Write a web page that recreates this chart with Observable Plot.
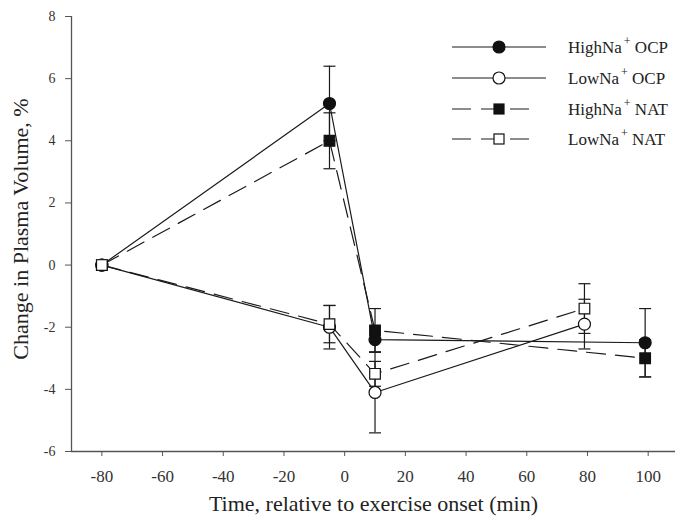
<!DOCTYPE html>
<html><head><meta charset="utf-8">
<script src="https://cdn.jsdelivr.net/npm/d3@7"></script>
<script src="https://cdn.jsdelivr.net/npm/@observablehq/plot@0.6"></script>
<style>
body{margin:0;background:#fff;}
#wrap{position:relative;width:675px;height:516px;}
#wrap svg.legend{position:absolute;left:0;top:0;pointer-events:none;}
</style></head><body><div id="wrap"></div>
<script>
// ---- data ----
const xTicks = [-80, -60, -40, -20, 0, 20, 40, 60, 80, 100];
const yTicks = [-6, -4, -2, 0, 2, 4, 6, 8];
const xTitle = "Time, relative to exercise onset (min)";
const yTitle = "Change in Plasma Volume, %";

const highOcpTime = [-80, -5, 10, 99];
const highOcpVal  = [0, 5.2, -2.4, -2.5];
const highOcpErr  = [0, 1.2, 0.4, 1.1];

const lowOcpTime = [-80, -5, 10, 79];
const lowOcpVal  = [0, -2.0, -4.1, -1.9];
const lowOcpErr  = [0, 0.7, 1.3, 0.8];

const highNatTime = [-80, -5, 10, 99];
const highNatVal  = [0, 4.0, -2.1, -3.0];
const highNatErr  = [0, 0.9, 0.7, 0.6];

const lowNatTime = [-80, -5, 10, 79];
const lowNatVal  = [0, -1.9, -3.5, -1.4];
const lowNatErr  = [0, 0.6, 0.4, 0.8];

const seriesBase = ["HighNa", "LowNa", "HighNa", "LowNa"];
const seriesProt = ["OCP", "OCP", "NAT", "NAT"];

// ---- build ----
const series = [
  {key: "HighNa OCP", time: highOcpTime, val: highOcpVal, err: highOcpErr, symbol: "circle", filled: true,  dash: null},
  {key: "LowNa OCP",  time: lowOcpTime,  val: lowOcpVal,  err: lowOcpErr,  symbol: "circle", filled: false, dash: null},
  {key: "HighNa NAT", time: highNatTime, val: highNatVal, err: highNatErr, symbol: "square", filled: true,  dash: "19,10"},
  {key: "LowNa NAT",  time: lowNatTime,  val: lowNatVal,  err: lowNatErr,  symbol: "square", filled: false, dash: "19,10"}
];
series.forEach((s, i) => { s.base = seriesBase[i]; s.prot = seriesProt[i];
  s.rows = s.time.map((t, j) => ({key: s.key, t, v: s.val[j], e: s.err[j]})); });
const errRows = series.flatMap(s => s.rows.filter(d => d.e > 0));

const ink = "#1a1a1a";
const axisInk = "#555";
const xDomain = [-90, 109];
const yDomain = [-6, 8];
const cap = {draw(ctx) { ctx.moveTo(-6, 0); ctx.lineTo(6, 0); }};
const fmt = d => String(d);

const marks = [
  Plot.ruleX([xDomain[0]], {stroke: axisInk, strokeWidth: 1.3}),
  Plot.ruleY([yDomain[0]], {stroke: axisInk, strokeWidth: 1.3}),
  Plot.axisX({ticks: xTicks, tickFormat: fmt, tickSize: 5, tickPadding: 13, fontSize: 17, label: null, stroke: axisInk, fill: "#333"}),
  Plot.axisY({ticks: yTicks, tickFormat: fmt, tickSize: 6, tickPadding: 10, fontSize: 14, label: null, stroke: axisInk, fill: "#333"}),
  Plot.text([xTitle], {frameAnchor: "bottom", dy: 59, fontSize: 22, lineAnchor: "bottom", textAnchor: "middle", fill: "#222"}),
  Plot.text([yTitle], {frameAnchor: "left", rotate: -90, dx: -44, dy: -5, fontSize: 22, lineAnchor: "bottom", textAnchor: "middle", fill: "#222"}),
  Plot.ruleX(errRows, {x: "t", y1: d => d.v - d.e, y2: d => d.v + d.e, stroke: ink, strokeWidth: 1.2}),
  Plot.dot(errRows, {x: "t", y: d => d.v + d.e, symbol: cap, stroke: ink, strokeWidth: 1.2, fill: "none"}),
  Plot.dot(errRows, {x: "t", y: d => d.v - d.e, symbol: cap, stroke: ink, strokeWidth: 1.2, fill: "none"})
];
series.forEach(s => {
  marks.push(Plot.line(s.rows, {x: "t", y: "v", stroke: ink, strokeWidth: 1.2, strokeDasharray: s.dash || undefined}));
});
series.forEach(s => {
  marks.push(Plot.dot(s.rows, {x: "t", y: "v", symbol: s.symbol, r: 6, fill: s.filled ? "#111" : "#fff", stroke: "#111", strokeWidth: 1.2}));
});

const chart = Plot.plot({
  width: 675, height: 516,
  marginLeft: 71, marginRight: 0, marginTop: 16, marginBottom: 65,
  style: {fontFamily: "'Liberation Serif', 'Times New Roman', serif", background: "#fff", color: "#222"},
  x: {domain: xDomain},
  y: {domain: yDomain},
  marks
});
const wrap = document.getElementById("wrap");
wrap.appendChild(chart);

// ---- legend overlay ----
const lg = d3.create("svg").attr("class", "legend").attr("width", 675).attr("height", 516)
  .style("font-family", "'Liberation Serif', 'Times New Roman', serif");
const rowY = [47, 78, 109, 139];
series.forEach((s, i) => {
  const y = rowY[i];
  const g = lg.append("g");
  g.append("line").attr("x1", 452).attr("x2", s.dash ? 534 : 546).attr("y1", y).attr("y2", y)
    .attr("stroke", ink).attr("stroke-width", 1.2).attr("stroke-dasharray", s.dash);
  const fill = s.filled ? "#111" : "#fff";
  if (s.symbol === "circle") {
    g.append("circle").attr("cx", 499).attr("cy", y).attr("r", 6).attr("fill", fill).attr("stroke", "#111").attr("stroke-width", 1.2);
  } else {
    g.append("rect").attr("x", 499 - 5).attr("y", y - 5).attr("width", 10).attr("height", 10).attr("fill", fill).attr("stroke", "#111").attr("stroke-width", 1.2);
  }
  const t = g.append("text").attr("x", 568).attr("y", y + 6).attr("font-size", 17).attr("fill", "#222");
  t.append("tspan").text(s.base);
  t.append("tspan").attr("dy", -8).attr("font-size", 12).attr("dx", 2).text("+");
  t.append("tspan").attr("dy", 8).text(" " + s.prot);
});
wrap.appendChild(lg.node());
</script></body></html>
